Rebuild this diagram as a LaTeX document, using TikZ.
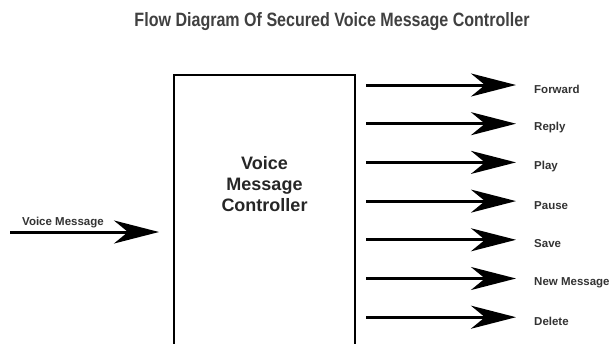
\documentclass[tikz,border=0pt]{standalone}
\usepackage{fontspec}
\setmainfont{Liberation Sans}
\usepackage{graphicx}
\usetikzlibrary{arrows.meta,positioning,calc}

\begin{document}
\begin{tikzpicture}[x=1pt,y=-1pt,node distance=38.7pt,
    ctrl/.style={draw,line width=2pt,minimum width=181pt,minimum height=290pt},
    ctrltext/.style={align=center,inner sep=0pt,font=\fontsize{18}{21}\selectfont\bfseries,text=black!85},
    lbl/.style={inner sep=0pt,font=\fontsize{11.5}{13}\selectfont\bfseries,text=black!80},
    ttl/.style={inner sep=0pt,font=\bfseries,text=black!75},
    arr/.style={line width=3pt,-{Stealth[length=45pt,width=23pt,inset=14pt]}}]
  \useasboundingbox (0,0) rectangle (613,343);
  \clip (0,0) rectangle (613,343);
  \node[ttl] (title) at (332,22) {\resizebox{395pt}{14pt}{Flow Diagram Of Secured Voice Message Controller}};

  % controller block, runs off the bottom
  \node[ctrl] (vmc) at (264.5,220) {};
  \node[ctrltext, below=82pt of vmc.north] (vmctxt) {Voice\\Message\\Controller};

  % input
  \coordinate (vin) at (10,232);
  \node[lbl, anchor=base west] (vinlbl) at ([xshift=12pt,yshift=7pt]vin) {Voice Message};
  \draw[arr, shorten >=14pt] (vin) -- (vin -| vmc.west);

  % outputs
  \coordinate (s1) at ([xshift=10pt]vmc.east |- 0,85);
  \coordinate[below=of s1] (s2);
  \coordinate[below=of s2] (s3);
  \coordinate[below=of s3] (s4);
  \coordinate[below=of s4] (s5);
  \coordinate[below=of s5] (s6);
  \coordinate[below=of s6] (s7);
  \coordinate[right=150pt of s1] (e1);
  \coordinate[right=150pt of s2] (e2);
  \coordinate[right=150pt of s3] (e3);
  \coordinate[right=150pt of s4] (e4);
  \coordinate[right=150pt of s5] (e5);
  \coordinate[right=150pt of s6] (e6);
  \coordinate[right=150pt of s7] (e7);

  \node[lbl, right=18pt of e1, yshift=-4pt] (fwd) {Forward};
  \node[lbl, right=18pt of e2, yshift=-4pt] (rep) {Reply};
  \node[lbl, right=18pt of e3, yshift=-4pt] (ply) {Play};
  \node[lbl, right=18pt of e4, yshift=-4pt] (pse) {Pause};
  \node[lbl, right=18pt of e5, yshift=-4pt] (sav) {Save};
  \node[lbl, right=18pt of e6, yshift=-4pt] (nwm) {New Message};
  \node[lbl, right=18pt of e7, yshift=-4pt] (del) {Delete};

  \draw[arr] (s1) -- (e1);
  \draw[arr] (s2) -- (e2);
  \draw[arr] (s3) -- (e3);
  \draw[arr] (s4) -- (e4);
  \draw[arr] (s5) -- (e5);
  \draw[arr] (s6) -- (e6);
  \draw[arr] (s7) -- (e7);
\end{tikzpicture}
\end{document}
